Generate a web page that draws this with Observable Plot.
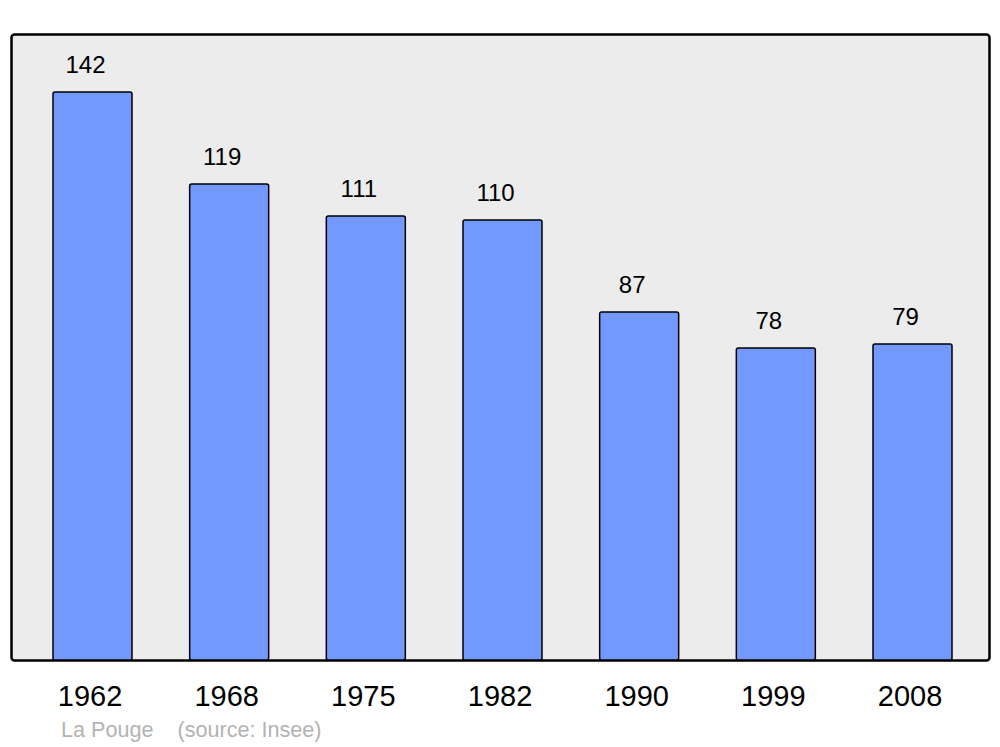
<!DOCTYPE html>
<html>
<head>
<meta charset="utf-8">
<script src="https://cdn.jsdelivr.net/npm/d3@7"></script>
<script src="https://cdn.jsdelivr.net/npm/@observablehq/plot@0.6"></script>
<style>
  html, body { margin: 0; padding: 0; background: #ffffff; }
  #wrap { position: relative; width: 1000px; height: 747px; font-family: "Liberation Sans", Arial, sans-serif; }
  #caption { position: absolute; left: 61px; top: 717px; font-size: 21.6px; color: #b3b3b3; white-space: pre; }
</style>
</head>
<body>
<div id="wrap">
  <div id="chart"></div>
  <div id="caption">La Pouge    (source: Insee)</div>
</div>
<script>
const years = ["1962", "1968", "1975", "1982", "1990", "1999", "2008"];
const population = [142, 119, 111, 110, 87, 78, 79];

const data = years.map((y, i) => ({year: y, value: population[i]}));

const chart = Plot.plot({
  width: 1000,
  height: 747,
  marginLeft: 11,
  marginRight: 11,
  marginTop: 34,
  marginBottom: 87,
  style: {fontFamily: "Liberation Sans, Arial, sans-serif", background: "#ffffff"},
  x: {domain: years, range: [53, 952], paddingInner: 0.422, paddingOuter: 0, round: false, axis: null},
  y: {domain: [0, 156.5], axis: null},
  marks: [
    Plot.frame({fill: "#ececec", stroke: "#000000", strokeWidth: 2.5, rx: 3}),
    Plot.barY(data, {x: "year", y: "value", fill: "#7399ff", stroke: "#000000", strokeWidth: 1.5, rx: 2}),
    Plot.text(data, {x: "year", y: "value", text: d => String(d.value), dy: -27, dx: -7.5, fontSize: 24, fill: "#000000"}),
    Plot.axisX({tickSize: 0, tickPadding: 25, fontSize: 29, dx: -3, color: "#000000", label: null})
  ]
});
document.getElementById("chart").appendChild(chart);
</script>
</body>
</html>
